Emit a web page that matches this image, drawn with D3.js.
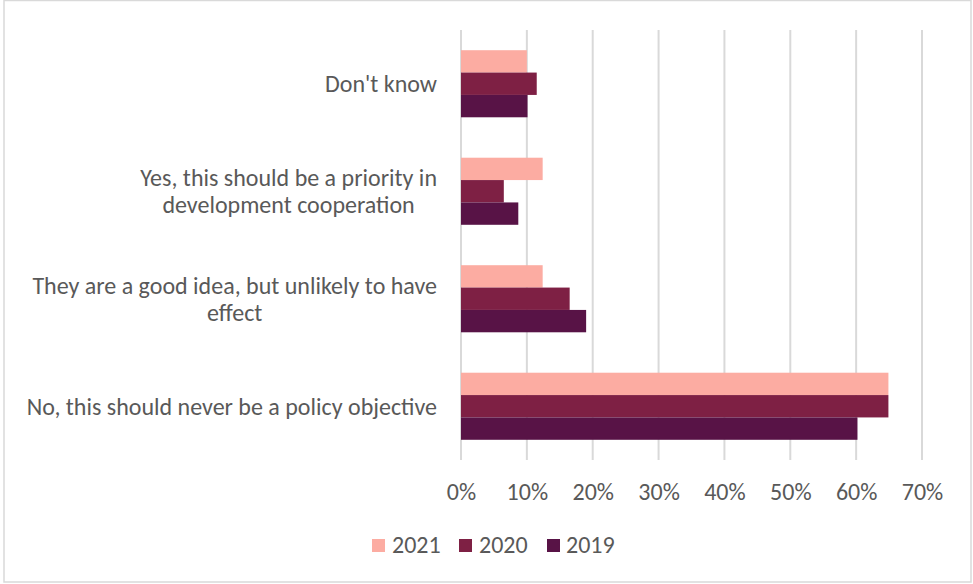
<!DOCTYPE html>
<html>
<head>
<meta charset="utf-8">
<script src="https://cdn.jsdelivr.net/npm/d3@7"></script>
<style>
  html, body { margin: 0; padding: 0; background: #fff; }
  svg { display: block; }
  text { font-family: Carlito, Calibri, "Open Sans", sans-serif; fill: #595959; }
</style>
</head>
<body>
<svg id="chart" width="973" height="584"></svg>
<script>
// Survey answers, top to bottom; each label split into its printed lines
const categories = ["Don't know", "Yes priority", "Good idea", "Never"];
const categoryLines = [
  ["Don't know"],
  ["Yes, this should be a priority in", "development cooperation"],
  ["They are a good idea, but unlikely to have", "effect"],
  ["No, this should never be a policy objective"]
];
const seriesNames = ["2021", "2020", "2019"];
const values2021 = [10.0, 12.4, 12.4, 64.9];
const values2020 = [11.5, 6.5, 16.5, 64.9];
const values2019 = [10.1, 8.7, 19.0, 60.2];
const tickValues = [0, 10, 20, 30, 40, 50, 60, 70];
const colors = ["#FCACA2", "#7E2044", "#581346"];

const seriesValues = [values2021, values2020, values2019];
const W = 973, H = 584;
const svg = d3.select("#chart");
const fontSize = 24;

// outer frame
svg.append("rect")
  .attr("x", 4).attr("y", 0.5).attr("width", W - 6).attr("height", H - 2.5)
  .attr("fill", "#fff").attr("stroke", "#d9d9d9").attr("stroke-width", 1.5);

const x = d3.scaleLinear().domain([0, 70]).range([461, 922]);
const y = d3.scaleBand().domain(categories).range([30, 460])
  .paddingInner(0.376).paddingOuter(0.188);
const ySub = d3.scaleBand().domain(seriesNames).range([0, y.bandwidth()]);

// vertical gridlines
svg.append("g").selectAll("line").data(tickValues).join("line")
  .attr("x1", d => x(d)).attr("x2", d => x(d))
  .attr("y1", 30).attr("y2", 460)
  .attr("stroke", "#d9d9d9").attr("stroke-width", 2);

// bars
const groups = svg.append("g").selectAll("g").data(categories).join("g")
  .attr("transform", c => `translate(0,${y(c)})`);
groups.selectAll("rect")
  .data((c, i) => seriesNames.map((s, j) => ({ s, v: seriesValues[j][i], j })))
  .join("rect")
  .attr("x", x(0))
  .attr("y", d => ySub(d.s))
  .attr("width", d => x(d.v) - x(0))
  .attr("height", ySub.bandwidth())
  .attr("fill", d => colors[d.j]);

// x axis labels
const xAxis = d3.axisBottom(x).tickValues(tickValues).tickFormat(d => d + "%").tickSize(0).tickPadding(0);
const gx = svg.append("g").attr("transform", "translate(0,499.5)").call(xAxis);
gx.select(".domain").remove();
gx.selectAll("text").attr("dy", 0).attr("y", 0)
  .style("font-size", fontSize + "px").style("font-family", null).attr("fill", "#595959");

// category labels: block right-aligned, lines centred within the block
const labelRight = 437, lineGap = 26.7;
categories.forEach((c, i) => {
  const lines = categoryLines[i];
  const cy = y(c) + y.bandwidth() / 2;
  const g = svg.append("g");
  const texts = lines.map((ln, k) => g.append("text")
    .attr("y", cy + 8.5 + (k - (lines.length - 1) / 2) * lineGap)
    .style("font-size", fontSize + "px")
    .text(ln));
  const widths = texts.map(t => t.node().getComputedTextLength());
  const maxW = d3.max(widths);
  const centre = labelRight - maxW / 2;
  texts.forEach(t => t.attr("x", centre).attr("text-anchor", "middle"));
});

// legend
const legendItems = [
  { name: "2021", sx: 372, tx: 392 },
  { name: "2020", sx: 459, tx: 479 },
  { name: "2019", sx: 547, tx: 566 }
];
const lg = svg.append("g");
legendItems.forEach((it, j) => {
  lg.append("rect").attr("x", it.sx).attr("y", 539).attr("width", 13).attr("height", 13)
    .attr("fill", colors[j]);
  lg.append("text").attr("x", it.tx).attr("y", 552.5)
    .style("font-size", fontSize + "px").text(seriesNames[j]);
});
</script>
</body>
</html>
